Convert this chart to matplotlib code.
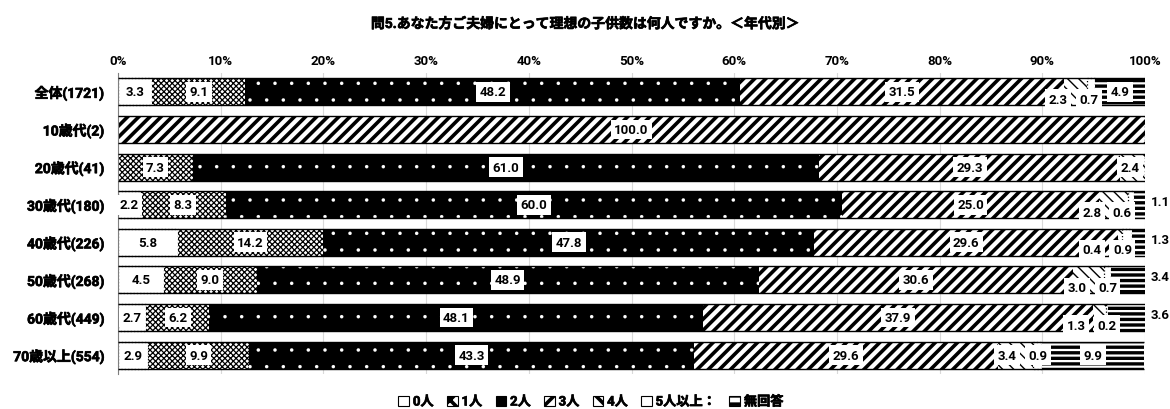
import matplotlib
matplotlib.use("Agg")
import matplotlib.pyplot as plt
import matplotlib.patheffects as pe
from matplotlib.patches import Patch
import numpy as np

plt.rcParams['font.family'] = ['Roboto', 'Noto Sans CJK JP', 'DejaVu Sans']
plt.rcParams['font.weight'] = 'bold'
plt.rcParams['hatch.linewidth'] = 2.6

# データ
title = "問5.あなた方ご夫婦にとって理想の子供数は何人ですか。＜年代別＞"
groups = ["全体(1721)", "10歳代(2)", "20歳代(41)", "30歳代(180)", "40歳代(226)",
          "50歳代(268)", "60歳代(449)", "70歳以上(554)"]
series = ["0人", "1人", "2人", "3人", "4人", "5人以上：", "無回答"]

v_0 = [3.3, 0, 0, 2.2, 5.8, 4.5, 2.7, 2.9]
v_1 = [9.1, 0, 7.3, 8.3, 14.2, 9.0, 6.2, 9.9]
v_2 = [48.2, 0, 61.0, 60.0, 47.8, 48.9, 48.1, 43.3]
v_3 = [31.5, 100.0, 29.3, 25.0, 29.6, 30.6, 37.9, 29.6]
v_4 = [2.3, 0, 2.4, 2.8, 0.4, 3.0, 1.3, 3.4]
v_5 = [0.7, 0, 0, 0.6, 0.9, 0.7, 0.2, 0.9]
v_na = [4.9, 0, 0, 1.1, 1.3, 3.4, 3.6, 9.9]

data = np.array([v_0, v_1, v_2, v_3, v_4, v_5, v_na])
starts = np.cumsum(data, axis=0) - data

# 模様（白黒）  hlw = 模様の線の太さ
styles = [
    dict(facecolor='white', edgecolor='black', hatch='', linestyle=':', linewidth=0.9, hlw=1.0),
    dict(facecolor='white', edgecolor='black', hatch='xxxxxx', linewidth=0, hlw=0.9),
    dict(facecolor='black', edgecolor='white', hatch='.', linewidth=0, hlw=0.1),
    dict(facecolor='white', edgecolor='black', hatch='///', linewidth=0, hlw=2.6),
    dict(facecolor='white', edgecolor='black', hatch='\\\\\\', linewidth=0, hlw=1.0),
    dict(facecolor='white', edgecolor='black', hatch='', linestyle=':', linewidth=0.9, hlw=1.0),
    dict(facecolor='white', edgecolor='black', hatch='---', linewidth=0, hlw=2.4),
]


def use_hatch_lw(artist, lw):
    # 模様の線幅を棒ごとに変える
    if hasattr(artist, 'set_hatch_linewidth'):
        artist.set_hatch_linewidth(lw)
    if hasattr(artist, '_hatch_linewidth'):
        artist._hatch_linewidth = lw
    orig = artist.draw

    def draw(renderer):
        with plt.rc_context({'hatch.linewidth': lw}):
            orig(renderer)
    artist.draw = draw


fig = plt.figure(figsize=(11.7, 4.1), dpi=100)
ax = fig.add_axes([118 / 1170, 35 / 410, 1027 / 1170, 301 / 410])

y = np.arange(len(groups))
bar_h = 0.72
for j, st in enumerate(styles):
    st = dict(st)
    hlw = st.pop('hlw')
    bars = ax.barh(y, data[j], left=starts[j], height=bar_h, **st)
    for b in bars:
        use_hatch_lw(b, hlw)

# 棒の上下の線
totals = data.sum(axis=0)
for i in y:
    if totals[i] > 0:
        ax.hlines([i - bar_h / 2, i + bar_h / 2], 0, min(totals[i], 100), color='black', lw=1.0, zorder=3)

# 数値ラベル
box = dict(facecolor='white', edgecolor='none', pad=2.5)
for i in y:
    vals = data[:, i]
    cen = starts[:, i] + vals / 2
    xs = cen.copy()
    ys = np.full(len(series), float(i))
    na = vals[6]
    outside = 0 < na < 4
    if outside:
        xs[6] = 101.5
        ys[6] = i - 0.08
    if na == 0:
        limit = 98.5
    elif outside:
        limit = 97.8
    else:
        limit = xs[6] - 3.0
    for j in (5, 4):
        if vals[j] > 0:
            xs[j] = min(cen[j], limit)
            limit = xs[j] - 3.0
    if 0 < na < 5:
        ys[4] += 0.2
        ys[5] += 0.2
    for j in range(len(series)):
        if vals[j] <= 0:
            continue
        if j == 6 and outside:
            ax.text(xs[j], ys[j], f"{vals[j]:.1f}", ha='center', va='center',
                    fontsize=9.5, fontweight='bold', clip_on=False, zorder=5)
        else:
            ax.text(xs[j], ys[j], f"{vals[j]:.1f}", ha='center', va='center',
                    fontsize=9.5, fontweight='bold', bbox=box, zorder=5)

bold_fx = [pe.withStroke(linewidth=0.5, foreground='black')]

ax.set_xlim(0, 100)
ax.set_ylim(len(groups) - 0.5, -0.5)
ax.set_yticks(y)
ax.set_yticklabels(groups, fontsize=10, fontweight='bold')
for t in ax.get_yticklabels():
    t.set_path_effects(bold_fx)
ax.xaxis.tick_top()
ax.set_xticks(range(0, 101, 10))
ax.set_xticklabels([f"{t}%" for t in range(0, 101, 10)], fontsize=9.5, fontweight='bold')
ax.tick_params(axis='x', length=0, pad=4)
ax.tick_params(axis='y', length=0, pad=10)
ax.grid(axis='x', color='#d9d9d9', lw=0.8)
ax.set_axisbelow(True)
for s in ('top', 'right', 'bottom'):
    ax.spines[s].set_visible(False)
ax.spines['left'].set_color('#7f7f7f')

fig.text(0.5, 1 - 25 / 410, title, ha='center', va='center', fontsize=10,
         fontweight='bold', path_effects=bold_fx)

handles = []
for st in styles:
    st = dict(st)
    hlw = st.pop('hlw')
    st['linewidth'] = 0.8
    st['linestyle'] = '-'
    if st['facecolor'] == 'black':
        st['hatch'] = ''
    st['edgecolor'] = 'black'
    st['hatch'] = st['hatch'][:2]
    p = Patch(**st)
    use_hatch_lw(p, 0.8)
    handles.append(p)
leg = fig.legend(handles, series, loc='center', bbox_to_anchor=(591 / 1170, 1 - 403 / 410), ncol=7,
                 frameon=False, fontsize=9.5, handlelength=0.8, handleheight=0.8,
                 handletextpad=0.3, columnspacing=1.0)
for t in leg.get_texts():
    t.set_path_effects(bold_fx)

plt.savefig("out.png", dpi=100)
